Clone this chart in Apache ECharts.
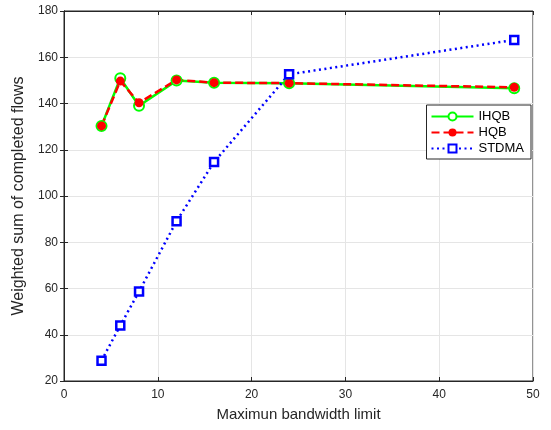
<!DOCTYPE html>
<html>
<head>
<meta charset="utf-8">
<script src="https://cdn.jsdelivr.net/npm/echarts@6/dist/echarts.min.js"></script>
<style>
html, body { margin: 0; padding: 0; background: #fff; }
#chart { width: 551px; height: 430px; }
</style>
</head>
<body>
<div id="chart"></div>
<script>
// bandwidth limits (x) and the three curves
var limits = [4, 6, 8, 12, 16, 24, 48];
var ihqb = [130.3, 150.9, 139.0, 149.9, 149.0, 148.8, 146.6];
var hqb = [130.3, 149.7, 140.3, 150.2, 149.0, 148.8, 147.0];
var stdma = [28.8, 44.0, 58.7, 89.1, 114.7, 152.6, 167.5];

function pairs(xs, ys) {
    var out = [];
    for (var i = 0; i < xs.length; i++) {
        out.push([xs[i], ys[i]]);
    }
    return out;
}

var chart = echarts.init(document.getElementById('chart'));

var font = 'Liberation Sans, Arial, sans-serif';
var axisColor = '#262626';
var gridColor = '#e5e5e5';

var option = {
    animation: false,
    textStyle: { fontFamily: font },
    grid: {
        left: 64, right: 18, top: 11, bottom: 49,
        show: true, borderColor: axisColor, borderWidth: 1
    },
    legend: {
        orient: 'vertical',
        right: 20, top: 105,
        backgroundColor: '#fff',
        borderColor: '#262626', borderWidth: 1,
        padding: [5, 7, 4, 4],
        itemGap: 3,
        itemWidth: 42, itemHeight: 10,
        textStyle: { fontSize: 13, color: '#000', fontFamily: font },
        data: ['IHQB', 'HQB', 'STDMA']
    },
    xAxis: [{
        type: 'value', min: 0, max: 50, interval: 10,
        name: 'Maximun bandwidth limit',
        nameLocation: 'middle', nameGap: 26,
        nameTextStyle: { fontSize: 15, color: '#262626' },
        axisLine: { lineStyle: { color: axisColor } },
        axisTick: { inside: true, length: 4, lineStyle: { color: axisColor } },
        axisLabel: { fontSize: 12, color: '#262626', margin: 8 },
        splitLine: { lineStyle: { color: gridColor } }
    }, {
        type: 'value', min: 0, max: 50, interval: 10, position: 'top',
        axisLine: { lineStyle: { color: axisColor } },
        axisTick: { inside: true, length: 4, lineStyle: { color: axisColor } },
        axisLabel: { show: false },
        splitLine: { show: false }
    }],
    yAxis: [{
        type: 'value', min: 20, max: 180, interval: 20,
        name: 'Weighted sum of completed flows',
        nameLocation: 'middle', nameGap: 34,
        nameTextStyle: { fontSize: 16, color: '#262626' },
        axisLine: { show: true, lineStyle: { color: axisColor } },
        axisTick: { show: true, inside: true, length: 4, lineStyle: { color: axisColor } },
        axisLabel: { fontSize: 12, color: '#262626', margin: 6 },
        splitLine: { lineStyle: { color: gridColor } }
    }, {
        type: 'value', min: 20, max: 180, interval: 20, position: 'right',
        axisLine: { show: true, lineStyle: { color: axisColor } },
        axisTick: { show: true, inside: true, length: 4, lineStyle: { color: axisColor } },
        axisLabel: { show: false },
        splitLine: { show: false }
    }],
    series: [{
        name: 'IHQB', type: 'line',
        data: pairs(limits, ihqb),
        symbol: 'circle', symbolSize: 10,
        itemStyle: { color: '#fff', borderColor: '#00ff00', borderWidth: 2 },
        lineStyle: { color: '#00ff00', width: 2.5, type: 'solid' },
        color: '#00ff00'
    }, {
        name: 'HQB', type: 'line',
        data: pairs(limits, hqb),
        symbol: 'circle', symbolSize: 9,
        itemStyle: { color: '#ff0000', borderColor: '#ff0000', borderWidth: 0 },
        lineStyle: { color: '#ff0000', width: 2.5, type: [8, 4] },
        color: '#ff0000'
    }, {
        name: 'STDMA', type: 'line',
        data: pairs(limits, stdma),
        symbol: 'rect', symbolSize: 8,
        itemStyle: { color: '#fff', borderColor: '#0000ff', borderWidth: 2.5 },
        lineStyle: { color: '#0000ff', width: 2.5, type: [2, 3.5] },
        color: '#0000ff'
    }]
};

chart.setOption(option);
</script>
</body>
</html>
